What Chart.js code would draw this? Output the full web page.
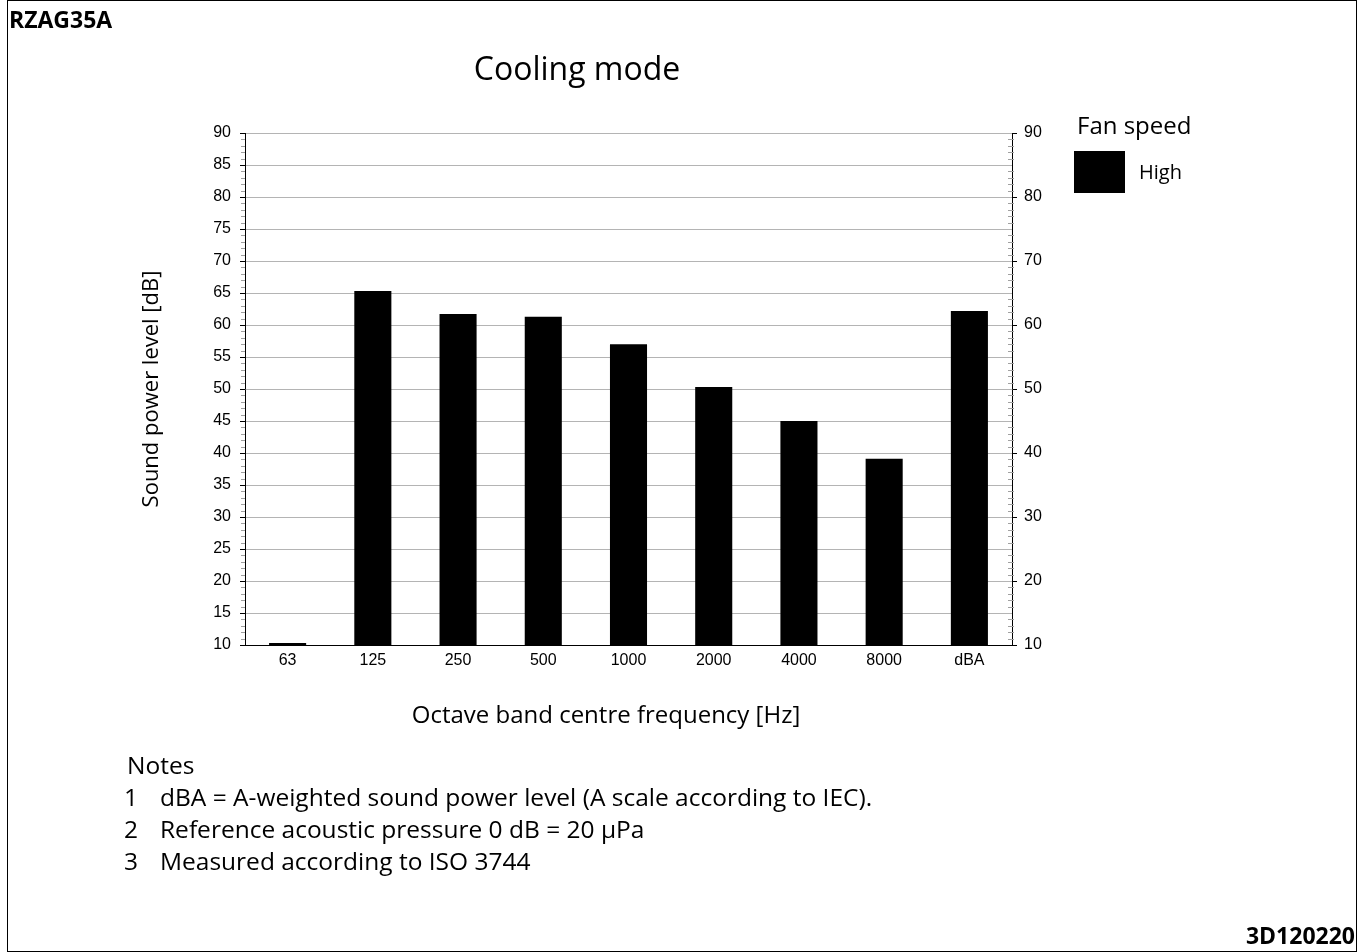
<!DOCTYPE html>
<html>
<head>
<meta charset="utf-8">
<script src="https://cdn.jsdelivr.net/npm/chart.js@4.4.1/dist/chart.umd.min.js"></script>
<style>
  html, body { margin: 0; padding: 0; background: #fff; }
  body { width: 1362px; height: 952px; position: relative; overflow: hidden; font-family: 'Open Sans', sans-serif; color: #000; }
  #frame { position: absolute; left: 7px; top: 0; width: 1350px; height: 952px; box-sizing: border-box; border: 1px solid #000; }
  #wrap { position: absolute; left: 0; top: 0; width: 1362px; height: 952px; }
  .abs { position: absolute; white-space: nowrap; line-height: normal; }
  #code { left: 9px; top: 3px; font-weight: bold; font-size: 23px; }
  #docno { right: 7px; top: 919px; font-weight: bold; font-size: 23px; }
  #title { left: 577px; top: 46px; transform: translateX(-50%); font-size: 32px; }
  #xtitle { left: 606px; top: 697px; transform: translateX(-50%); font-size: 24px; }
  #legend { left: 1074px; top: 108px; }
  #legend .head { font-size: 24px; margin-left: 3px; }
  #legend .row { position: relative; height: 45px; margin-top: 6px; }
  #legend .swatch { position: absolute; left: 0; top: 4px; width: 51px; height: 42px; background: #000; }
  #legend .lbl { position: absolute; left: 65px; top: 11px; font-size: 20px; }
  #notes { left: 124px; top: 749px; font-size: 24.5px; }
  #notes .line { height: 32px; line-height: 32px; }
  #notes .head { padding-left: 3px; }
  #notes .num { display: inline-block; width: 36px; }
</style>
</head>
<body>
<div id="frame"></div>
<div id="wrap"><canvas id="chart"></canvas></div>
<div class="abs" id="code">RZAG35A</div>
<div class="abs" id="docno">3D120220</div>
<div class="abs" id="title">Cooling mode</div>
<div class="abs" id="xtitle">Octave band centre frequency [Hz]</div>
<div class="abs" id="legend"></div>
<div class="abs" id="notes"></div>
<script>
// octave bands and measured sound power
const bands = ['63', '125', '250', '500', '1000', '2000', '4000', '8000', 'dBA'];
const fanHigh = [10.3, 65.3, 61.7, 61.3, 57.0, 50.3, 45.0, 39.1, 62.2];
const seriesName = 'High';
const legendTitle = 'Fan speed';
const notes = [
  'dBA = A-weighted sound power level (A scale according to IEC).',
  'Reference acoustic pressure 0 dB = 20 µPa',
  'Measured according to ISO 3744',
];
const yMin = 10, yMax = 90;

const tickFont = { family: 'Liberation Sans', size: 16 };

// small grey 1 dB ticks on both value axes
const minorTicks = {
  id: 'minorTicks',
  afterDraw(chart) {
    const ctx = chart.ctx;
    const left = chart.scales.y, right = chart.scales.y2;
    ctx.save();
    ctx.strokeStyle = '#a0a0a0';
    ctx.lineWidth = 1;
    for (let v = yMin; v <= yMax; v++) {
      if (v % 5 === 0) continue;
      const py = Math.round(left.getPixelForValue(v)) + 0.5;
      ctx.beginPath();
      ctx.moveTo(left.right - 4, py);
      ctx.lineTo(left.right, py);
      ctx.stroke();
      const ry = Math.round(right.getPixelForValue(v)) + 0.5;
      ctx.beginPath();
      ctx.moveTo(right.left - 4, ry);
      ctx.lineTo(right.left + 2, ry);
      ctx.stroke();
    }
    ctx.restore();
  }
};

new Chart(document.getElementById('chart'), {
  type: 'bar',
  data: {
    labels: bands,
    datasets: [{
      label: seriesName,
      data: fanHigh,
      backgroundColor: '#000',
      borderWidth: 0,
      categoryPercentage: 1,
      barPercentage: 0.435,
    }],
  },
  options: {
    responsive: true,
    maintainAspectRatio: false,
    animation: false,
    layout: { padding: { left: 135, right: 300, top: 133, bottom: 267 } },
    plugins: { legend: { display: false }, tooltip: { enabled: false } },
    scales: {
      x: {
        grid: { display: false, tickLength: 0 },
        border: { display: true, color: '#000', width: 1 },
        ticks: { color: '#000', font: tickFont, padding: 6 },
        afterFit(s) { s.height = 40; },
      },
      y: {
        position: 'left',
        min: yMin, max: yMax,
        ticks: { stepSize: 5, color: '#000', font: tickFont, padding: 9 },
        grid: {
          color: (c) => (c.tick && c.tick.value === yMin ? 'rgba(0,0,0,0)' : '#b4b4b4'),
          tickColor: '#000', tickLength: 5,
        },
        border: { color: '#000', width: 1 },
        title: { display: true, text: 'Sound power level [dB]', font: { family: 'Open Sans', size: 22 }, color: '#000', padding: 4 },
        afterFit(s) { s.width = 110; },
      },
      y2: {
        position: 'right',
        min: yMin, max: yMax,
        ticks: { stepSize: 10, color: '#000', font: tickFont, padding: 7 },
        grid: { drawOnChartArea: false, tickColor: '#000', tickLength: 5 },
        border: { color: '#000', width: 1 },
        afterFit(s) { s.width = 50; },
      },
    },
  },
  plugins: [minorTicks],
});

// legend and notes as page text
const legend = document.getElementById('legend');
legend.innerHTML = '<div class="head">' + legendTitle + '</div>' +
  '<div class="row"><div class="swatch"></div><div class="lbl">' + seriesName + '</div></div>';
document.getElementById('notes').innerHTML = '<div class="line head">Notes</div>' +
  notes.map((n, i) => '<div class="line"><span class="num">' + (i + 1) + '</span>' + n + '</div>').join('');
</script>
</body>
</html>
